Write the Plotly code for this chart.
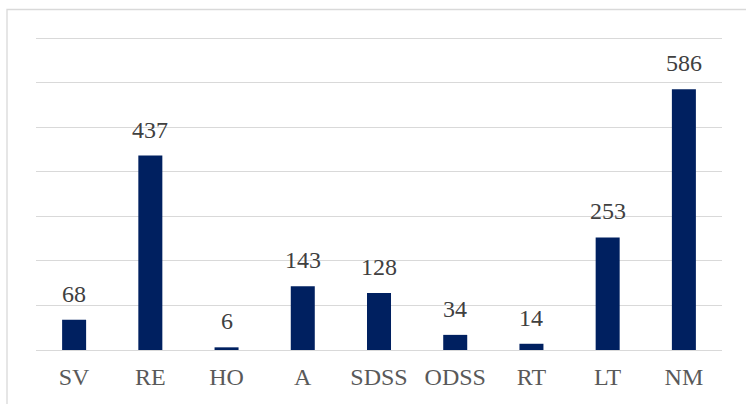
import plotly.graph_objects as go

categories = ["SV", "RE", "HO", "A", "SDSS", "ODSS", "RT", "LT", "NM"]
values = [68, 437, 6, 143, 128, 34, 14, 253, 586]

W, H = 746, 404
YMAX = 710
B = 54
# 700 gridline at y=38, baseline at y=350
ppu = (350 - 38) / 700.0
T = 350 - YMAX * ppu
L, R = 36, 24
pw, ph = W - L - R, H - T - B
FONT = "Times New Roman, Liberation Serif, serif"

fig = go.Figure()
fig.add_trace(go.Bar(
    x=categories, y=values,
    marker=dict(color="#002060", line=dict(width=0)),
    width=0.315,
    hoverinfo="x+y",
))

for c, v in zip(categories, values):
    fig.add_annotation(x=c, y=v, text=str(v), showarrow=False,
                       yanchor="bottom", yshift=11,
                       font=dict(family=FONT, size=24, color="#404040"))

fig.add_shape(type="rect", xref="paper", yref="paper",
              x0=(7 - L) / pw, x1=(W + 10 - L) / pw,
              y0=-(B + 10) / ph, y1=1 + (T - 9) / ph,
              line=dict(color="#d9d9d9", width=1.3), fillcolor="rgba(0,0,0,0)",
              layer="below")

fig.update_layout(
    width=W, height=H,
    margin=dict(l=L, r=R, t=T, b=B),
    paper_bgcolor="white", plot_bgcolor="white",
    showlegend=False,
    font=dict(family=FONT, size=24, color="#595959"),
    xaxis=dict(showgrid=False, showline=False, ticks="", zeroline=False,
               ticklabelstandoff=10,
               tickfont=dict(family=FONT, size=24, color="#595959")),
    yaxis=dict(range=[0, YMAX], dtick=100, showgrid=True, gridcolor="#d9d9d9",
               gridwidth=1.3, showticklabels=False, zeroline=True,
               zerolinecolor="#d9d9d9", zerolinewidth=1.3, showline=False, ticks=""),
)

fig.write_html("out.html", config={"displayModeBar": False},
               post_script="document.body.style.margin='0px';")
